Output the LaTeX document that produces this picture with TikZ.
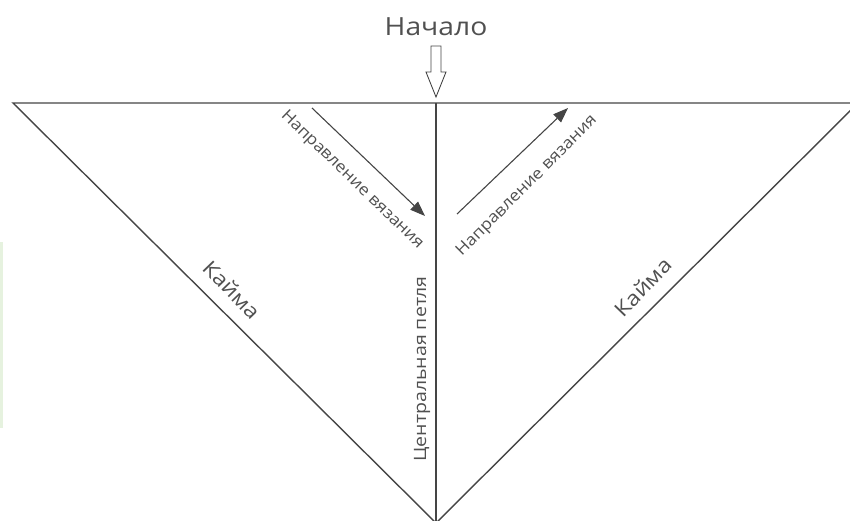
\documentclass[tikz,border=0pt]{standalone}
\usepackage{fontspec}
\setmainfont{Open Sans}
\usetikzlibrary{arrows.meta}
\definecolor{ln}{HTML}{454545}
\definecolor{tx}{HTML}{505050}
\definecolor{band}{HTML}{E6F2DF}
\tikzset{
  edge/.style={draw=ln, line width=1.4pt, line join=miter},
  dirarrow/.style={draw=ln, line width=1.1pt, -{Triangle[length=15pt,width=11pt]}},
  lbl/.style={text=tx, inner sep=0pt, font=\fontsize{16}{18}\selectfont},
  biglbl/.style={text=tx, inner sep=0pt, font=\fontsize{20.5}{22}\selectfont},
}
\begin{document}
\begin{tikzpicture}[x=1pt,y=-1pt]
\useasboundingbox (0,0) rectangle (850,520);
\fill[band] (0,242) rectangle (3,428);
\begin{scope}
\clip (0,0) rectangle (850,520);
\coordinate (TL) at (13,103);
\coordinate (TR) at (858,103);
\coordinate (B) at (436,523);
\coordinate (TC) at (436,103);
\draw[edge] (TL) -- (TR) -- (B) -- cycle;
\draw[edge] (TC) -- (B);
\end{scope}
% start label and hollow arrow
\node[biglbl, font=\fontsize{25}{27}\selectfont, xscale=1.13] (start) at (436,27) {Начало};
\draw[draw=ln, line width=0.9pt, line join=miter] (431,46) -- (441,46) -- (441,72) -- (446,72) -- (436,97) -- (426,72) -- (431,72) -- cycle;
% direction arrows
\coordinate (la1) at (312,108);
\coordinate (la2) at (425,216);
\draw[dirarrow] (la1) -- (la2);
\coordinate (ra1) at (457,214);
\coordinate (ra2) at (568,108);
\draw[dirarrow] (ra1) -- (ra2);
\node[lbl, rotate=-44, xscale=1.1] (ldir) at (352,180) {Направление вязания};
\node[lbl, rotate=45, xscale=1.1] (rdir) at (527,186) {Направление вязания};
% border labels
\node[biglbl, rotate=-46, xscale=1.14] (lk) at (232,290) {Кайма};
\node[biglbl, rotate=46, xscale=1.14] (rk) at (643,287) {Кайма};
\node[lbl, font=\fontsize{17}{19}\selectfont, rotate=90, xscale=1.15] (center) at (422,369) {Центральная петля};
\end{tikzpicture}
\end{document}
